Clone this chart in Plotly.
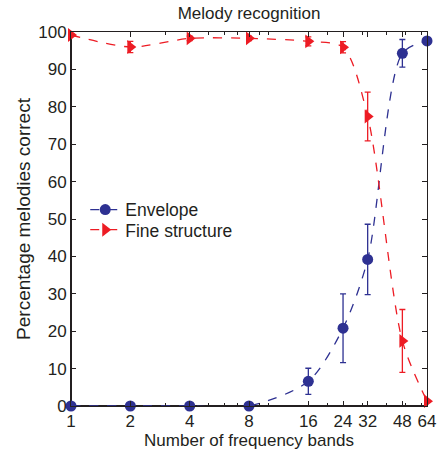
import plotly.graph_objects as go

bands = [1, 2, 4, 8, 16, 24, 32, 48, 64]
envelope = [0, 0, 0, 0, 6.6, 20.8, 39.2, 94.3, 97.6]
envelope_err = [0, 0, 0, 0, 3.5, 9.2, 9.4, 3.7, 0]
fine = [99.2, 96.0, 98.3, 98.3, 97.5, 95.9, 77.4, 17.4, 1.3]
fine_err = [0, 1.5, 0.6, 0.6, 1.2, 1.5, 6.5, 8.4, 0]
x_ticks = [1, 2, 4, 8, 16, 24, 32, 48, 64]
x_minor = [3, 5, 6, 7, 9, 10, 20, 30, 40, 50, 60]
y_ticks = [0, 10, 20, 30, 40, 50, 60, 70, 80, 90, 100]

blue = "#2e3192"
red = "#ed1c24"
ink = "#231f20"
font = "Liberation Sans, Arial, Helvetica, sans-serif"

fig = go.Figure()
fig.add_trace(go.Scatter(
    x=bands, y=envelope, name="Envelope", mode="lines+markers", legend="legend",
    showlegend=True,
    line=dict(color=blue, width=1.3, dash="dash", shape="spline", smoothing=0.8),
    marker=dict(symbol="circle", size=11, color=blue),
    error_y=dict(type="data", array=envelope_err, color=blue, thickness=1.3, width=3),
    cliponaxis=False,
))
fig.add_trace(go.Scatter(
    x=bands, y=fine, name="Fine structure", mode="lines+markers", legend="legend2",
    showlegend=True,
    line=dict(color=red, width=1.3, dash="dash", shape="spline", smoothing=0.8),
    marker=dict(symbol="triangle-right", size=12, color=red),
    error_y=dict(type="data", array=fine_err, color=red, thickness=1.3, width=3),
    cliponaxis=False,
))

leg_font = dict(size=17.5, family=font, color=ink)
fig.update_layout(
    width=438, height=456, showlegend=True,
    margin=dict(l=71, r=11, t=32, b=50, autoexpand=False),
    paper_bgcolor="white", plot_bgcolor="white",
    font=dict(family=font, size=17, color=ink),
    title=dict(text="Melody recognition", x=0.5, xref="paper", xanchor="center",
               y=0.972, yanchor="middle", font=dict(size=17, family=font, color=ink),
               automargin=False),
    legend=dict(x=0.04, y=0.525, xanchor="left", yanchor="middle", bgcolor="rgba(0,0,0,0)",
                font=leg_font, itemwidth=30, visible=True),
    legend2=dict(x=0.04, y=0.471, xanchor="left", yanchor="middle", bgcolor="rgba(0,0,0,0)",
                 font=leg_font, itemwidth=30, visible=True),
    xaxis=dict(
        type="log", range=[0, 1.80618], tickvals=x_ticks, ticktext=[str(t) for t in x_ticks],
        tickfont=dict(size=17, family=font, color=ink), automargin=False,
        ticks="inside", ticklen=5, tickcolor=ink, showgrid=False, zeroline=False,
        showline=True, linecolor=ink, linewidth=1, mirror="ticks",
        minor=dict(tickvals=x_minor, ticks="inside", ticklen=3, tickcolor=ink, showgrid=False),
        title=dict(text="Number of frequency bands", standoff=2,
                   font=dict(size=17, family=font, color=ink)),
    ),
    yaxis=dict(
        range=[0, 100], tickvals=y_ticks, tickfont=dict(size=17, family=font, color=ink),
        automargin=False, ticks="inside", ticklen=5, tickcolor=ink,
        showgrid=False, zeroline=False, showline=True, linecolor=ink, linewidth=1,
        mirror="ticks",
        title=dict(text="Percentage melodies correct", standoff=2,
                   font=dict(size=19, family=font, color=ink)),
    ),
)
fig.add_shape(type="line", xref="paper", yref="paper", x0=0, x1=0, y0=0, y1=1,
              line=dict(color=ink, width=2), layer="below")
fig.add_shape(type="line", xref="paper", yref="paper", x0=0, x1=1, y0=0, y1=0,
              line=dict(color=ink, width=2), layer="below")

fig.write_html("out.html", config={"displayModeBar": False},
               post_script="document.body.style.margin='0';document.body.style.overflow='hidden';")
